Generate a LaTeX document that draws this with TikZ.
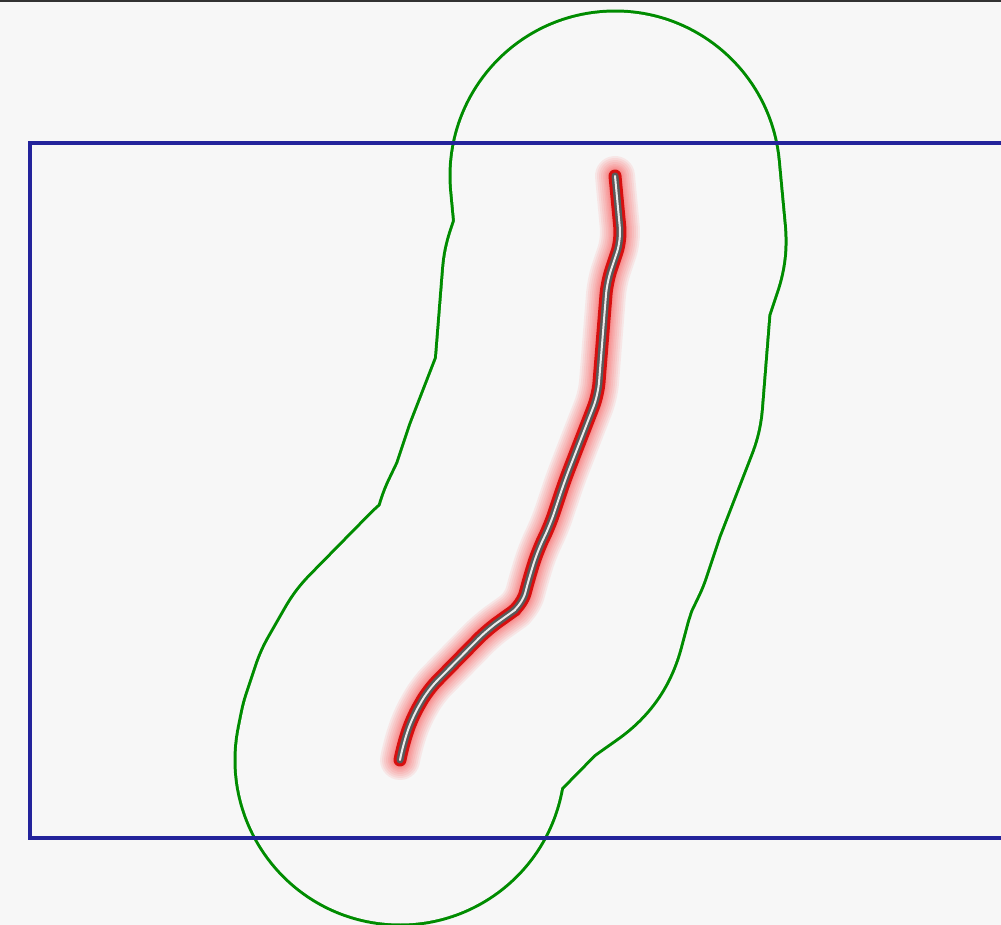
\documentclass[tikz,border=0pt]{standalone}
\usetikzlibrary{calc}

\definecolor{bgpaper}{RGB}{247,247,247}
\definecolor{framedark}{RGB}{50,50,50}
\definecolor{boxblue}{RGB}{35,35,155}
\definecolor{bufgreen}{RGB}{0,140,0}
\definecolor{crackred}{RGB}{215,15,15}
\definecolor{glowred}{RGB}{255,40,40}
\definecolor{coregray}{RGB}{90,90,90}
\definecolor{corelight}{RGB}{235,235,235}

% the traced line, in pixel units
\newcommand{\crackline}{(615,176) -- (621,240) -- (607,282) -- (598,395)
    -- (565,480) -- (550,525) -- (538,550) -- (530,575) -- (522,605)
    -- (505,617) -- (487,630) -- (428,690) -- (412,718) -- (403,745)
    -- (400,760)}

\begin{document}
\begin{tikzpicture}[
    x=0.02cm, y=-0.02cm,
    line cap=round,
    line join=round,
    buffer/.style={
        draw=bufgreen,
        line width=6.66cm
    },
    bufferhole/.style={
        draw=bgpaper,
        line width=6.54cm
    },
    extent/.style={
        draw=boxblue,
        line width=0.09cm,
        line cap=butt,
        line join=miter
    },
    glow/.style={
        draw=glowred,
        opacity=0.08,
        rounded corners=0.25cm,
        line width=#1
    },
    crack/.style={
        draw=crackred,
        rounded corners=0.25cm,
        line width=0.26cm
    },
    crackcore/.style={
        draw=coregray,
        rounded corners=0.25cm,
        line width=0.14cm
    },
    cracklight/.style={
        draw=corelight,
        rounded corners=0.25cm,
        line width=0.04cm
    }
]

% --- PAPER ----------------------------------------------------

\useasboundingbox (0,0) rectangle (1001,925);
\fill[bgpaper] (0,0) rectangle (1001,925);
\draw[framedark, line width=0.04cm, line cap=butt] (0,1) -- (1001,1);

% --- BUFFER OUTLINE -------------------------------------------

\draw[buffer] \crackline;
\draw[bufferhole] \crackline;

% --- EXTENT BOX -----------------------------------------------

\draw[extent] (1010,143) -- (30,143) -- (30,838) -- (1010,838);

% --- HIGHLIGHTED LINE -----------------------------------------

\foreach \w in {0.80cm, 0.72cm, 0.64cm, 0.56cm, 0.48cm, 0.42cm, 0.36cm, 0.31cm}
    \draw[glow=\w] \crackline;

\draw[crack] \crackline;
\draw[crackcore] \crackline;
\draw[cracklight] \crackline;

\end{tikzpicture}
\end{document}
